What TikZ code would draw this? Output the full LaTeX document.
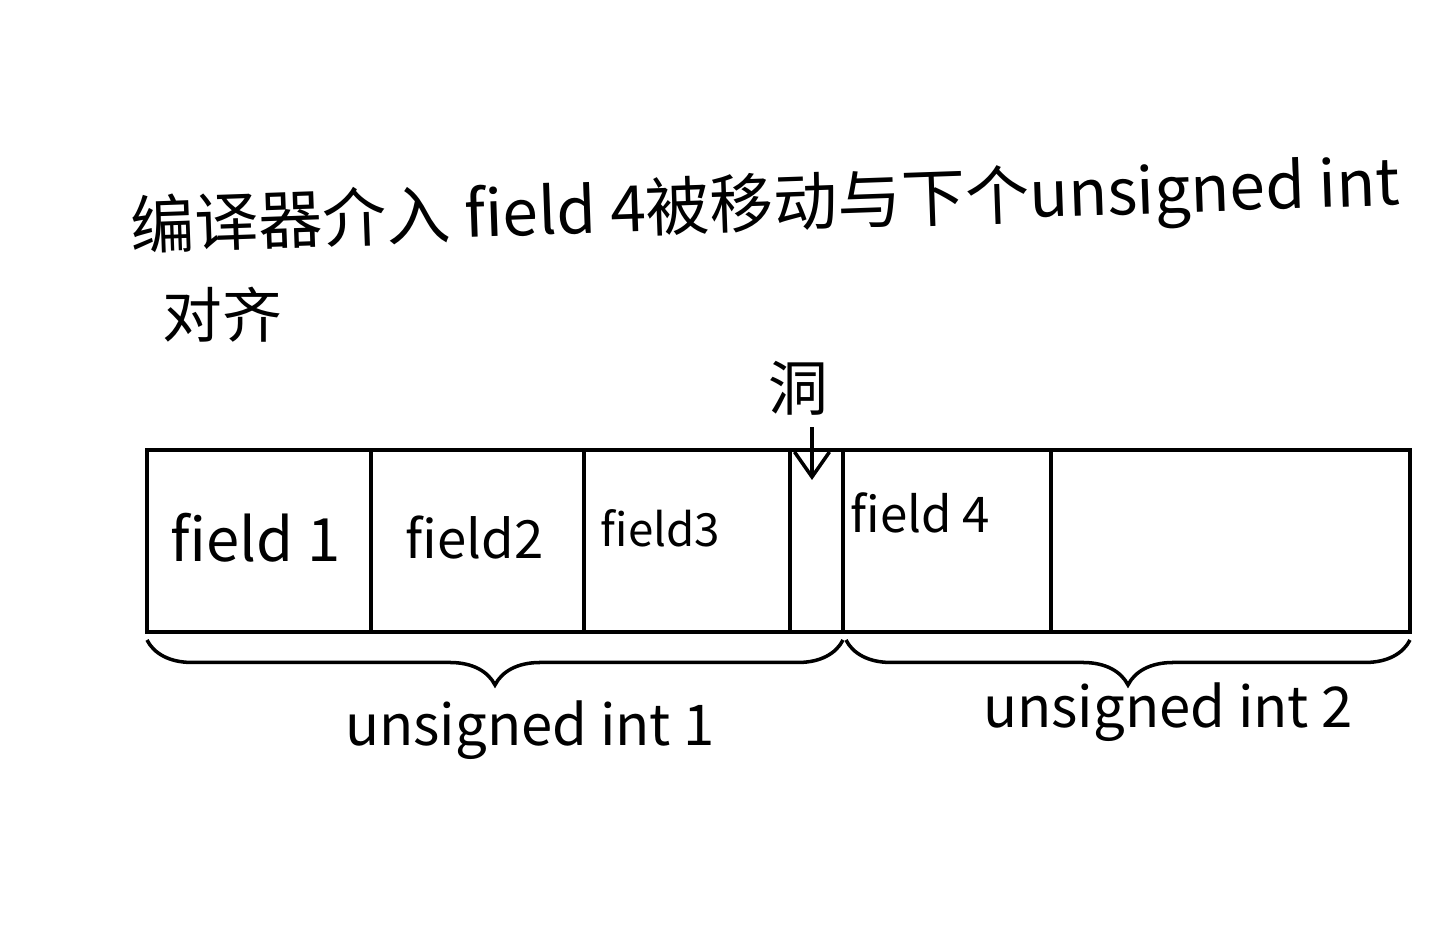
\documentclass[tikz,border=0pt]{standalone}
\usepackage{fontspec}
\setmainfont{Noto Sans CJK SC}
\usetikzlibrary{arrows.meta, decorations.pathreplacing}

\begin{document}
\begin{tikzpicture}[
    cell/.style={draw, line width=1pt, minimum height=1.82cm, inner sep=0pt, outer sep=0pt, anchor=south west},
    lbl/.style={font=\fontsize{17}{20}\selectfont},
    fieldlbl/.style={anchor=west, inner sep=0pt, font=\fontsize{#1}{20}\selectfont},
    bracebelow/.style={decorate, line width=1pt, decoration={brace, mirror, amplitude=0.45cm}}
]
    \useasboundingbox (0,0) rectangle (14.42,9.5);

    % Draw title
    \node[font=\fontsize{18.2}{22}\selectfont, anchor=south west, rotate=2] (title) at (1.2,6.72) {编译器介入 field 4被移动与下个unsigned int};
    \node[lbl, anchor=south west] (title2) at (1.5,5.95) {对齐};

    % Draw cells
    \node[cell, minimum width=2.24cm] (c1) at (1.47,3.18) {};
    \node[cell, minimum width=2.13cm] (c2) at (c1.south east) {};
    \node[cell, minimum width=2.06cm] (c3) at (c2.south east) {};
    \node[cell, minimum width=0.53cm] (c4) at (c3.south east) {};
    \node[cell, minimum width=2.08cm] (c5) at (c4.south east) {};
    \node[cell, minimum width=3.59cm] (c6) at (c5.south east) {};

    % Labels
    \node[fieldlbl=17] (f1) at (1.70,4.12) {field 1};
    \node[fieldlbl=15] (f2) at (4.05,4.12) {field2};
    \node[fieldlbl=13] (f3) at (6.00,4.22) {field3};
    \node[fieldlbl=14] (f4) at (8.50,4.37) {field 4};

    % Draw hole arrow
    \node[lbl] (hole) at (7.98,5.62) {洞};
    \coordinate (holetip) at (8.12,4.70);
    \draw[line width=1pt, -{Straight Barb[length=2.5mm, width=3.5mm]}] (hole.south -| holetip) -- (holetip);

    % Draw braces
    \draw[bracebelow] ([yshift=-0.08cm]c1.south west) -- ([yshift=-0.08cm]c4.south east);
    \draw[bracebelow] ([yshift=-0.08cm,xshift=0.03cm]c5.south west) -- ([yshift=-0.08cm]c6.south east);
    \node[font=\fontsize{16}{20}\selectfont] (u1) at (5.30,2.20) {unsigned int 1};
    \node[font=\fontsize{16}{20}\selectfont] (u2) at (11.68,2.38) {unsigned int 2};
\end{tikzpicture}
\end{document}
